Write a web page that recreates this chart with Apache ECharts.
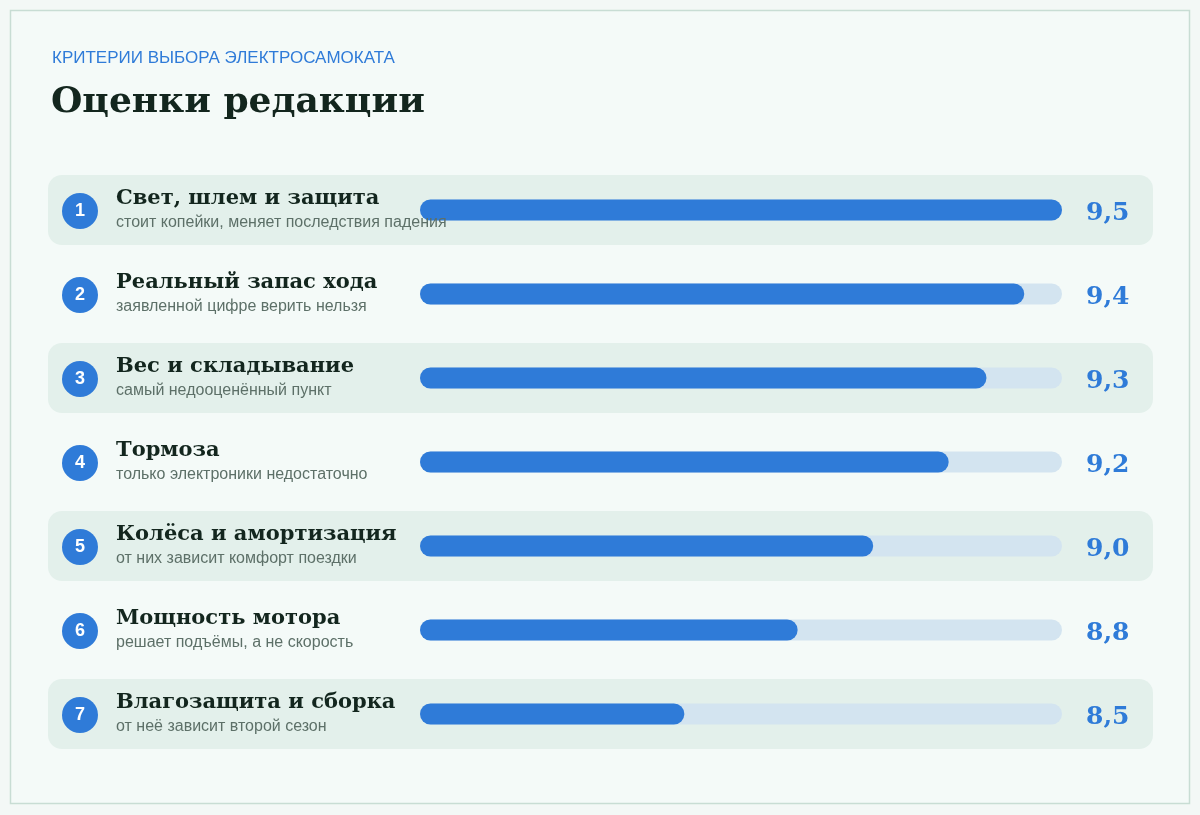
<!DOCTYPE html>
<html><head><meta charset="utf-8">
<script src="https://cdn.jsdelivr.net/npm/echarts@6/dist/echarts.min.js"></script>
<style>html,body{margin:0;padding:0;background:#f3f8f6}#c{width:1200px;height:815px}</style>
</head><body><div id="c"></div>
<script>
const titles = ['Свет, шлем и защита','Реальный запас хода','Вес и складывание','Тормоза','Колёса и амортизация','Мощность мотора','Влагозащита и сборка'];
const subtitles = ['стоит копейки, меняет последствия падения','заявленной цифре верить нельзя','самый недооценённый пункт','только электроники недостаточно','от них зависит комфорт поездки','решает подъёмы, а не скорость','от неё зависит второй сезон'];
const scores = [9.5, 9.4, 9.3, 9.2, 9.0, 8.8, 8.5];
const scoreLabels = ['9,5','9,4','9,3','9,2','9,0','8,8','8,5'];
const idx = titles.map((_, i) => i);
const serif = 'Georgia, "DejaVu Serif", serif';
const sans = 'Arial, "Liberation Sans", sans-serif';
const chart = echarts.init(document.getElementById('c'));
chart.setOption({
  backgroundColor: '#f3f8f6',
  animation: false,
  graphic: [{type:'rect', z:-10, shape:{x:10.5,y:10.5,width:1179,height:793}, style:{fill:'#f4faf8', stroke:'#c8ddd4', lineWidth:1.5}}],
  title: [
    {text:'КРИТЕРИИ ВЫБОРА ЭЛЕКТРОСАМОКАТА', left:47, top:45, textStyle:{fontFamily:sans, fontSize:17, fontWeight:'normal', color:'#2f7bd8'}},
    {text:'Оценки редакции', left:46, top:80, textStyle:{fontFamily:serif, fontSize:36, fontWeight:'bold', color:'#13261e'}}
  ],
  grid: {left:420, width:642, top:168, height:588},
  xAxis: {type:'value', min:7.8, max:9.5, show:false},
  yAxis: {type:'category', data:idx, inverse:true, z:10,
    axisLine:{show:false}, axisTick:{show:false}, splitLine:{show:false},
    axisLabel:{align:'left', margin:304, formatter:(v)=>'{t|'+titles[v]+'}\n{s|'+subtitles[v]+'}',
      rich:{t:{fontFamily:serif, fontSize:21, fontWeight:'bold', color:'#13261e', lineHeight:26, padding:[0,0,0,0]},
            s:{fontFamily:sans, fontSize:16, color:'#5d7068', lineHeight:22}}}},
  series: [
    {type:'custom', z:0, clip:false, data: idx.map(i=>[7.8,i]),
     renderItem:(params, api)=>{
       const i = api.value(1);
       const y = api.coord([7.8, i])[1];
       const ch = [];
       if (i % 2 === 0) ch.push({type:'rect', shape:{x:48,y:y-35,width:1105,height:70,r:14}, style:{fill:'#e3f0eb'}});
       ch.push({type:'circle', shape:{cx:80,cy:y+1,r:18}, style:{fill:'#2f7bd8'}});
       ch.push({type:'text', style:{x:80,y:y+1,text:String(i+1),align:'center',verticalAlign:'middle',fill:'#fff',font:'bold 18px '+sans}});
       ch.push({type:'text', style:{x:1086,y:y+3,text:scoreLabels[i],align:'left',verticalAlign:'middle',fill:'#2f7bd8',font:'bold 25px '+serif}});
       return {type:'group', children:ch};
     }},
    {type:'bar', z:5, data:scores, barWidth:21, showBackground:true,
     backgroundStyle:{color:'#d3e4f0', borderRadius:11},
     itemStyle:{color:'#2f7bd8', borderRadius:11}}
  ]
});
</script></body></html>
